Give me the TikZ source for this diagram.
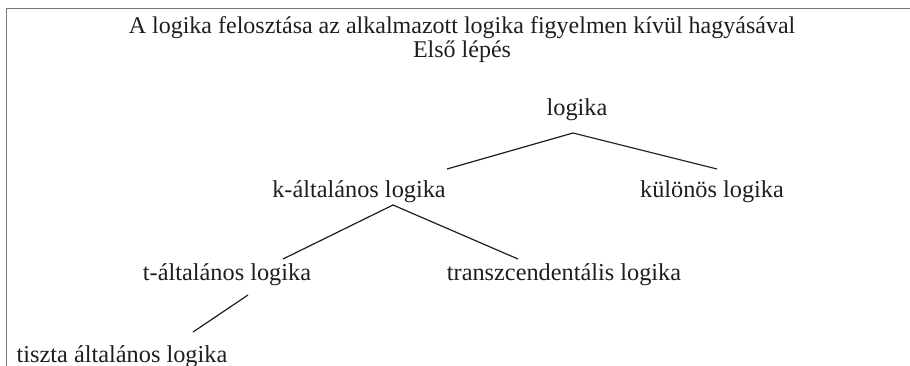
\documentclass[tikz,border=0pt]{standalone}
\usepackage{fontspec}
\setmainfont{Liberation Serif}
\usetikzlibrary{calc}
\definecolor{framegray}{HTML}{777777}
\definecolor{ink}{HTML}{1E1E1E}
\tikzset{
  lbl/.style={anchor=base, inner sep=0pt, text=ink, font=\fontsize{24.3}{29}\selectfont},
  ttl/.style={anchor=base, inner sep=0pt, text=ink, font=\fontsize{24}{29}\selectfont},
  conn/.style={draw=ink, line width=1.2pt},
  frame/.style={draw=framegray, line width=1.5pt}
}
\begin{document}
\begin{tikzpicture}[x=1pt,y=-1pt]
\useasboundingbox (0,0) rectangle (910,365);
\draw[frame] (6.5,380) -- (6.5,8.5) -- (920,8.5);
\node[ttl] (t1) at (462,33) {A logika felosztása az alkalmazott logika figyelmen kívül hagyásával};
\node[ttl] (t2) at (462,57.5) {Első lépés};
\node[lbl] (logika) at (577,115) {logika};
\node[lbl] (kgen) at (359,197) {k-általános logika};
\node[lbl] (kul) at (712,197) {különös logika};
\node[lbl] (tgen) at (227,280) {t-általános logika};
\node[lbl] (transz) at (564,280) {transzcendentális logika};
\node[lbl] (tiszta) at (122,362) {tiszta általános logika};
\draw[conn] ($(kgen.base)+(88,-28)$) -- ($(logika.base)+(-4,18)$) -- ($(kul.base)+(5,-28)$);
\draw[conn] ($(tgen.base)+(56,-21)$) -- ($(kgen.base)+(34,8)$) -- ($(transz.base)+(-46,-21)$);
\draw[conn] ($(tgen.base)+(21,15)$) -- ($(tiszta.base)+(71,-30)$);
\end{tikzpicture}
\end{document}
